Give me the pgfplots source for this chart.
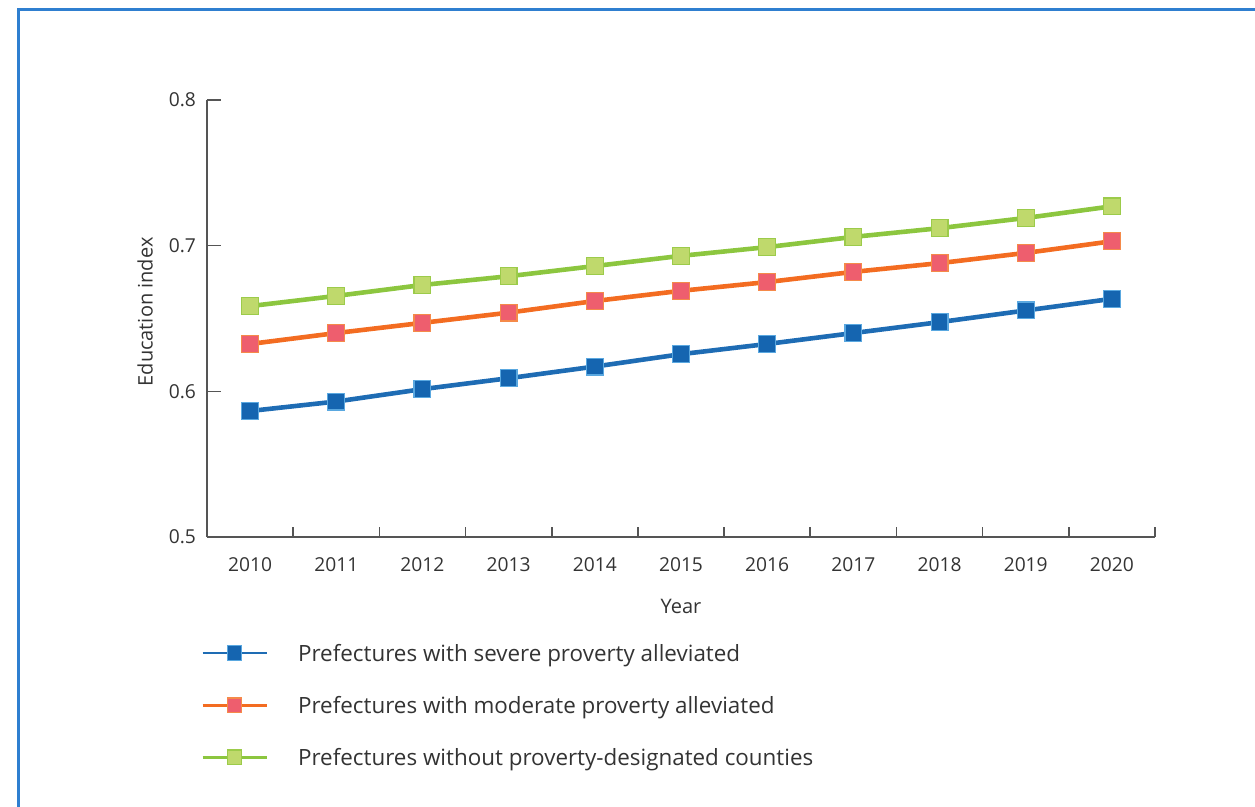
\documentclass[border=0pt]{standalone}
\usepackage{pgfplots}
\pgfplotsset{compat=1.18}
\usepackage{fontspec}
\setmainfont{Open Sans}
\definecolor{framecol}{HTML}{2F7FD0}
\definecolor{axiscol}{HTML}{555555}
\definecolor{txtcol}{HTML}{333333}
\definecolor{blueline}{HTML}{1E6CB4}
\definecolor{bluefill}{HTML}{1565B0}
\definecolor{blueedge}{HTML}{5AA8E0}
\definecolor{orgline}{HTML}{F36C21}
\definecolor{orgfill}{HTML}{EE5E6E}
\definecolor{orgedge}{HTML}{F58A4A}
\definecolor{grnline}{HTML}{8CC63F}
\definecolor{grnfill}{HTML}{BFD96C}
\definecolor{grnedge}{HTML}{9CCB4A}
\begin{document}
\begin{tikzpicture}
\path[use as bounding box] (0,0) rectangle (627.5pt,403.5pt);
\draw[framecol, line width=1.5pt] (9.25pt,0) -- (9.25pt,398.5pt) -- (627.5pt,398.5pt);
\begin{axis}[
  at={(103.5pt,135pt)}, anchor=south west,
  scale only axis, width=474pt, height=218.5pt,
  xmin=-0.5, xmax=10.5, ymin=0.5, ymax=0.8,
  axis x line*=bottom, axis y line*=left,
  axis line style={draw=axiscol, line width=0.8pt, -},
  xtick={0,...,10},
  xticklabels={2010,2011,2012,2013,2014,2015,2016,2017,2018,2019,2020},
  minor xtick={-0.5,0.5,...,10.5},
  major x tick style={draw=none},
  minor x tick style={draw=axiscol, line width=0.8pt},
  minor tick length=5pt,
  ytick={0.5,0.6,0.7,0.8},
  yticklabels={0.5,0.6,0.7,0.8},
  y tick style={draw=axiscol, line width=0.8pt},
  major tick length=7pt,
  tick align=inside,
  /pgf/number format/assume math mode=true,
  ticklabel style={font=\fontsize{9.6}{10}\selectfont, text=txtcol},
  xticklabel style={yshift=-7pt},
  yticklabel style={xshift=-2pt},
  xlabel={Year}, ylabel={Education index},
  label style={font=\fontsize{10}{11}\selectfont, text=txtcol},
  xlabel style={at={(axis description cs:0.5,-0.158)}, anchor=center},
  ylabel style={at={(axis description cs:-0.0654,0.515)}, anchor=center, rotate=0},
  legend style={at={(axis description cs:-0.0065,-0.245)}, anchor=north west, draw=none, fill=none,
    font=\fontsize{11.2}{13}\selectfont, text=txtcol, row sep=17.5pt, column sep=15pt, inner sep=0pt,
    nodes={inner sep=0pt, text depth=0pt}},
  legend cell align=left,
  legend image code/.code={%
    \draw[line width=1.4pt] (0pt,0pt) -- (32pt,0pt);
    \draw[mark size=3.6pt, line width=0.6pt] plot coordinates {(16pt,0pt)};},
  every axis plot/.append style={mark=square*, mark size=4.2pt, line width=2.3pt},
]
\addplot[color=blueline, mark options={fill=bluefill, draw=blueedge, line width=0.6pt}] coordinates {
(0,0.5865) (1,0.593) (2,0.6015) (3,0.609) (4,0.617) (5,0.6255) (6,0.6325) (7,0.640) (8,0.6475) (9,0.6555) (10,0.6635)};
\addlegendentry{Prefectures with severe proverty alleviated}
\addplot[color=orgline, mark options={fill=orgfill, draw=orgedge, line width=0.6pt}] coordinates {
(0,0.6325) (1,0.640) (2,0.647) (3,0.654) (4,0.662) (5,0.669) (6,0.675) (7,0.682) (8,0.688) (9,0.695) (10,0.703)};
\addlegendentry{Prefectures with moderate proverty alleviated}
\addplot[color=grnline, mark options={fill=grnfill, draw=grnedge, line width=0.6pt}] coordinates {
(0,0.6585) (1,0.6655) (2,0.673) (3,0.679) (4,0.686) (5,0.693) (6,0.699) (7,0.706) (8,0.712) (9,0.719) (10,0.727)};
\addlegendentry{Prefectures without proverty-designated counties}
\end{axis}
\end{tikzpicture}
\end{document}
